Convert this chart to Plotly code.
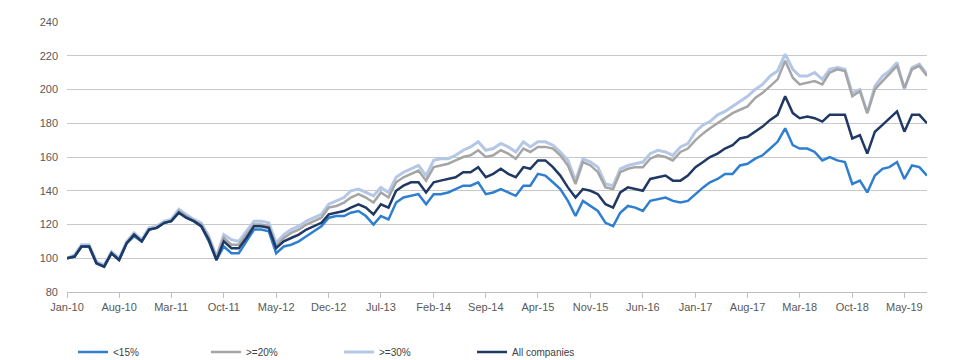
import pandas as pd
import plotly.graph_objects as go

dates = pd.date_range("2010-01-01", periods=116, freq="MS")

below15 = [100, 101, 107, 107, 97, 95, 103, 99, 109, 113, 110, 117, 118, 121, 122, 127, 124, 122, 119, 110,
           99, 107, 103, 103, 110, 117, 117, 116, 103, 107, 108, 110, 113, 116, 119, 124, 125, 125, 127, 128,
           125, 120, 125, 123, 133, 136, 137, 138, 132, 138, 138, 139, 141, 143, 143, 145, 138, 139, 141, 139,
           137, 143, 143, 150, 149, 145, 141, 134, 125, 134, 131, 128, 121, 119, 127, 131, 130, 128, 134, 135,
           136, 134, 133, 134, 138, 142, 145, 147, 150, 150, 155, 156, 159, 161, 165, 169, 177, 167, 165, 165,
           163, 158, 160, 158, 157, 144, 146, 139, 149, 153, 154, 157, 147, 155, 154, 149]

ge20 = [100, 101, 107, 107, 97, 95, 103, 99, 109, 114, 110, 117, 118, 121, 122, 128, 125, 122, 120, 112,
        100, 112, 108, 108, 114, 120, 120, 119, 107, 112, 115, 117, 120, 122, 124, 130, 131, 133, 136, 138,
        136, 133, 139, 136, 145, 148, 150, 152, 146, 154, 155, 156, 158, 160, 161, 164, 160, 161, 164, 162,
        159, 165, 163, 166, 166, 165, 161, 155, 144, 157, 155, 151, 142, 141, 151, 153, 154, 154, 159, 161,
        160, 158, 163, 165, 170, 174, 177, 180, 183, 186, 188, 190, 195, 198, 202, 206, 217, 207, 203, 204,
        205, 203, 210, 212, 211, 196, 199, 186, 200, 205, 209, 214, 201, 212, 214, 208]

ge30 = [100, 102, 108, 108, 98, 96, 104, 100, 110, 115, 111, 118, 119, 122, 123, 129, 126, 123, 121, 113,
        101, 114, 111, 110, 116, 122, 122, 121, 109, 114, 117, 119, 122, 124, 126, 132, 134, 136, 140, 141,
        139, 137, 142, 139, 148, 151, 153, 155, 149, 158, 159, 159, 161, 164, 166, 169, 164, 165, 168, 166,
        163, 169, 166, 169, 169, 167, 163, 158, 146, 159, 157, 154, 144, 143, 153, 155, 156, 157, 162, 164,
        163, 161, 166, 168, 175, 179, 181, 185, 187, 190, 193, 196, 200, 203, 208, 211, 221, 212, 208, 208,
        210, 206, 212, 213, 212, 198, 200, 186, 202, 208, 211, 216, 200, 213, 215, 209]

all_companies = [100, 101, 107, 107, 97, 95, 103, 99, 109, 114, 110, 117, 118, 121, 122, 127, 124, 122, 119, 111,
                 99, 110, 106, 106, 112, 119, 119, 118, 106, 110, 112, 114, 117, 119, 121, 126, 127, 128, 130, 132,
                 130, 126, 132, 130, 140, 143, 145, 145, 139, 145, 146, 147, 148, 151, 151, 154, 148, 150, 153, 150,
                 148, 154, 153, 158, 158, 154, 149, 142, 136, 141, 140, 138, 132, 130, 139, 142, 141, 140, 147, 148,
                 149, 146, 146, 149, 154, 157, 160, 162, 165, 167, 171, 172, 175, 178, 182, 185, 196, 186, 183, 184,
                 183, 181, 185, 185, 185, 171, 173, 162, 175, 179, 183, 187, 175, 185, 185, 180]

series = [
    (">=30%", ge30, "#b4c7e7", 3),
    (">=20%", ge20, "#a5a5a5", 2.5),
    ("<15%", below15, "#2e7fd0", 2.5),
    ("All companies", all_companies, "#1f3864", 2.5),
]
rank = {"<15%": 1, ">=20%": 2, ">=30%": 3, "All companies": 4}

fig = go.Figure()
for name, vals, color, w in series:
    fig.add_trace(go.Scatter(x=dates, y=vals, mode="lines", name=name,
                             line=dict(color=color, width=w), legendrank=rank[name]))

tickdates = dates[::7]
fig.update_layout(
    width=946, height=352,
    margin=dict(l=59, r=27, t=14, b=68, autoexpand=False),
    paper_bgcolor="white", plot_bgcolor="white",
    font=dict(family="Liberation Sans Narrow, Arial Narrow, Liberation Sans, Arial", size=11, color="#595959"),
    showlegend=True,
    legend=dict(orientation="h", x=0.007, y=-0.222, xanchor="left", yanchor="middle",
                entrywidth=88, entrywidthmode="pixels", font=dict(size=10, color="#404040"),
                itemwidth=30),
)
fig.update_xaxes(
    range=[dates[0], dates[-1]],
    tickvals=list(tickdates), tickformat="%b-%y",
    showgrid=False, showline=True, linecolor="#bfbfbf", linewidth=1,
    ticks="outside", ticklen=5, tickcolor="#bfbfbf",
    tickfont=dict(size=11, color="#595959"),
)
fig.update_yaxes(
    range=[80, 240], dtick=20, tick0=80,
    showgrid=True, gridcolor="#c8c8c8", gridwidth=1,
    zeroline=False, showline=False,
    tickfont=dict(size=11, color="#595959"),
    ticks="", ticklabelstandoff=8,
)

fig.write_html("out.html")
